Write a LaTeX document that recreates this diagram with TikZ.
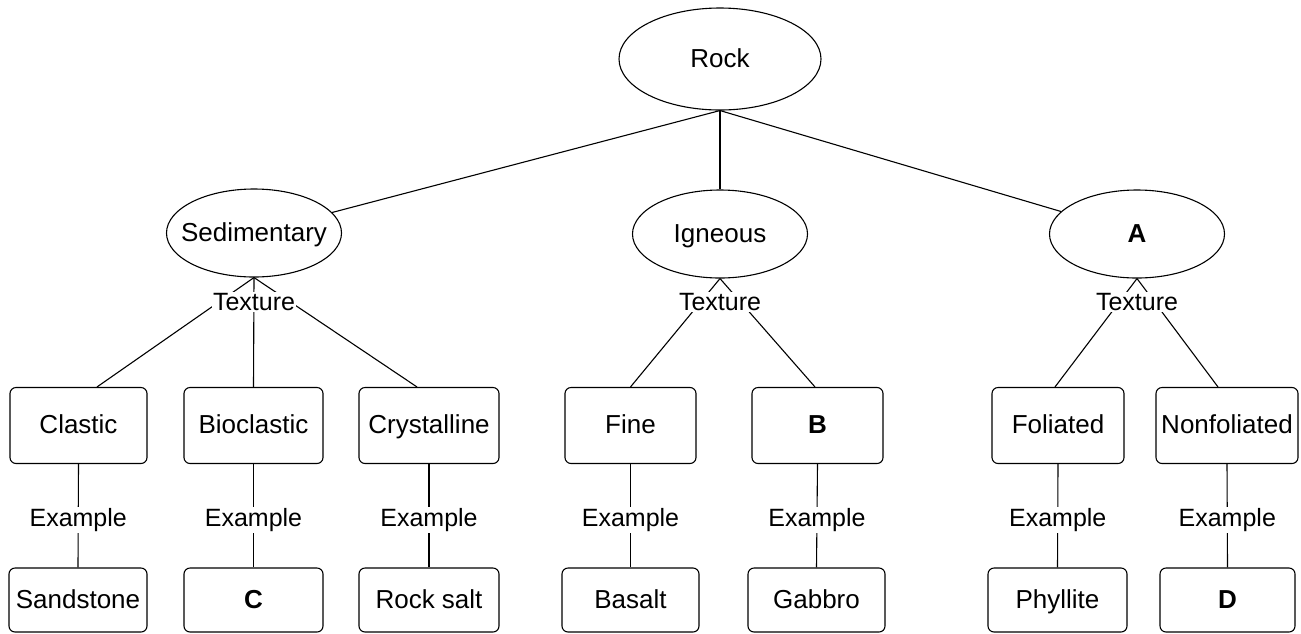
\documentclass[tikz,border=0pt]{standalone}
\usepackage{fontspec}
\setmainfont{Liberation Sans}
\usetikzlibrary{shapes.geometric}

\tikzset{
  rockell/.style={draw, ellipse, inner sep=0pt, text height=19pt, text depth=2.5pt},
  classell/.style={rockell, minimum width=175pt, minimum height=88pt},
  texbox/.style={draw, rectangle, rounded corners=6pt, inner sep=0pt, minimum height=76pt,
                 text height=19pt, text depth=2.5pt},
  exbox/.style={texbox, minimum height=64pt},
  lbl/.style={fill=white, inner sep=1.5pt, font=\fontsize{25}{30}\selectfont},
}
% text kept out of the ellipse size
\newcommand{\ctext}[1]{\makebox[0pt]{#1}}

\begin{document}
\begin{tikzpicture}[x=1pt, y=-1pt, line width=1.1pt, font=\fontsize{26}{30}\selectfont]
  \useasboundingbox (0,0) rectangle (1301,633);
  % rock and its three classes
  \node[rockell, minimum width=202pt, minimum height=102pt] (rock) at (720,59) {\ctext{Rock}};
  \node[classell] (sed) at (254,233) {\ctext{Sedimentary}};
  \node[classell] (ign) at (720,234) {\ctext{Igneous}};
  \node[classell] (met) at (1137,234) {\ctext{\textbf{A}}};
  \foreach \c in {sed,ign,met}
    \draw (rock.south) -- (\c);

  % textures
  \node[texbox, minimum width=137pt] (clastic) at (78.5,425.5) {Clastic};
  \node[texbox, minimum width=139pt] (bioclastic) at (253.5,425.5) {Bioclastic};
  \node[texbox, minimum width=140pt] (crystalline) at (429,425.5) {Crystalline};
  \node[texbox, minimum width=131pt] (fine) at (630.5,425.5) {Fine};
  \node[texbox, minimum width=131pt] (coarse) at (817.5,425.5) {\textbf{B}};
  \node[texbox, minimum width=132pt] (foliated) at (1058,425.5) {Foliated};
  \node[texbox, minimum width=142pt] (nonfoliated) at (1227,425.5) {Nonfoliated};

  % examples
  \node[exbox, minimum width=138pt] (sandstone) at (78,600) {Sandstone};
  \node[exbox, minimum width=139pt] (bioex) at (253.5,600) {\textbf{C}};
  \node[exbox, minimum width=140pt] (rocksalt) at (429,600) {Rock salt};
  \node[exbox, minimum width=137pt] (basalt) at (630.5,600) {Basalt};
  \node[exbox, minimum width=137pt] (gabbro) at (816.5,600) {Gabbro};
  \node[exbox, minimum width=139pt] (phyllite) at (1057.5,600) {Phyllite};
  \node[exbox, minimum width=135pt] (nonfolex) at (1227.5,600) {\textbf{D}};

  \draw (sed.south) -- ([xshift=18.5pt]clastic.north);
  \draw (sed.south) -- (bioclastic.north);
  \draw (sed.south) -- ([xshift=-12pt]crystalline.north);
  \draw (ign.south) -- (fine.north);
  \draw (ign.south) -- ([xshift=-2.5pt]coarse.north);
  \draw (met.south) -- ([xshift=-3pt]foliated.north);
  \draw (met.south) -- ([xshift=-9pt]nonfoliated.north);

  \foreach \a/\b in {clastic/sandstone, bioclastic/bioex, crystalline/rocksalt,
                     fine/basalt, coarse/gabbro, foliated/phyllite, nonfoliated/nonfolex}
    \draw (\a.south) -- node[lbl, pos=0.54] {Example} (\b.north);

  % labels over the texture links
  \node[lbl] (sedtex) at (254,302) {Texture};
  \node[lbl] (igntex) at (720,302) {Texture};
  \node[lbl] (mettex) at (1137,302) {Texture};
\end{tikzpicture}
\end{document}
